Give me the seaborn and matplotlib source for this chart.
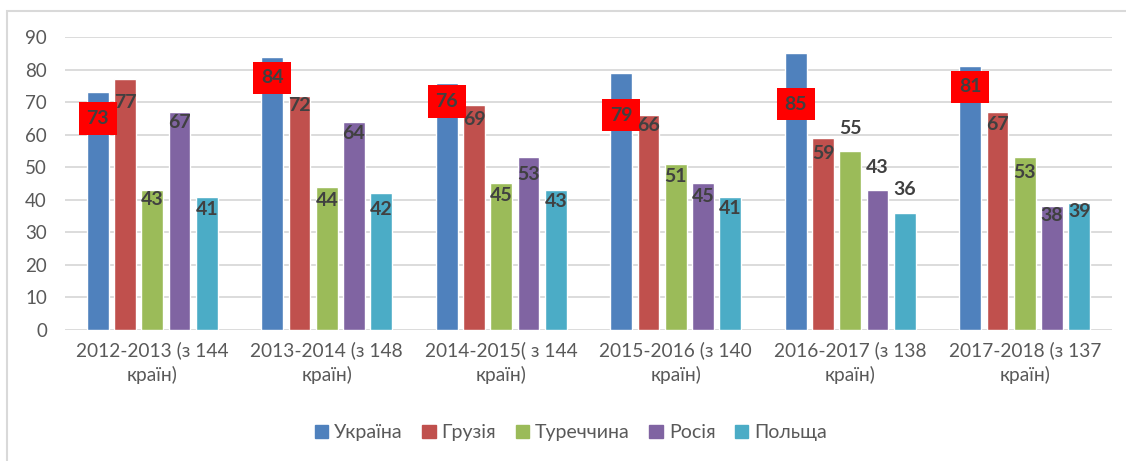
import pandas as pd
import numpy as np
import matplotlib.pyplot as plt
import seaborn as sns
from matplotlib.patches import Rectangle

# Values
periods = ['2012-2013 (з 144\nкраїн)', '2013-2014 (з 148\nкраїн)', '2014-2015( з 144\nкраїн)',
           '2015-2016 (з 140\nкраїн)', '2016-2017 (з 138\nкраїн)', '2017-2018 (з 137\nкраїн)']
countries = ['Україна', 'Грузія', 'Туреччина', 'Росія', 'Польща']
ukraine = [73, 84, 76, 79, 85, 81]
georgia = [77, 72, 69, 66, 59, 67]
turkey = [43, 44, 45, 51, 55, 53]
russia = [67, 64, 53, 45, 43, 38]
poland = [41, 42, 43, 41, 36, 39]

colors = ['#4F81BD', '#C0504D', '#9BBB59', '#8064A2', '#4BACC6']

# vertical label offsets (in axis units) to mimic where Excel put each label
label_offsets = [
    [-8, -6.6, -5.9, -13, -15.6, -6.3],
    [-7, -3, -4.3, -3.3, -4.7, -4],
    [-3, -4.3, -3.8, -3.9, 6.9, -4.7],
    [-3.4, -3.7, -5.1, -4.1, 7, -2.7],
    [-4, -5, -3.6, -3.6, 7, -2.7],
]

series = [ukraine, georgia, turkey, russia, poland]
df = pd.DataFrame({
    'period': np.repeat(periods, len(countries)),
    'country': countries * len(periods),
    'value': [series[j][i] for i in range(len(periods)) for j in range(len(countries))],
})

sns.set_style('white')
plt.rcParams['font.family'] = ['Lato', 'DejaVu Sans']

fig = plt.figure(figsize=(11.26, 4.61), dpi=100)
ax = fig.add_axes([0.0577, 0.2842, 0.9299, 0.6356])

sns.barplot(data=df, x='period', y='value', hue='country', palette=colors,
            width=0.78, gap=0.2, ax=ax, legend=True, saturation=1)

ax.set_ylim(0, 90)
ax.set_xlim(-0.5, len(periods) - 0.5)
ax.set_yticks(range(0, 91, 10))
ax.grid(axis='y', color='#D9D9D9', linewidth=1.3)
ax.set_axisbelow(True)
for s in ax.spines.values():
    s.set_visible(False)
ax.set_xlabel('')
ax.set_ylabel('')
ax.tick_params(axis='y', length=0, pad=13, labelsize=13.5, labelcolor='#595959')
ax.tick_params(axis='x', length=0, pad=8, labelsize=13.8, labelcolor='#595959')
for lbl in ax.get_xticklabels():
    lbl.set_linespacing(1.45)

# data labels
for j, cont in enumerate(ax.containers):
    for i, bar in enumerate(cont):
        x = bar.get_x() + bar.get_width() / 2
        h = bar.get_height()
        kw = dict(ha='center', va='center', fontsize=14, fontweight='bold', color='#404040')
        if j == 0:
            kw['bbox'] = dict(boxstyle='square,pad=0.4', fc='#FF0000', ec='none')
        ax.text(x, h + label_offsets[j][i], f'{int(h)}', **kw)

ax.get_legend().remove()
handles = [Rectangle((0, 0), 1, 1, color=c) for c in colors]
fig.legend(handles, countries, loc='center', bbox_to_anchor=(0.507, 0.061), ncol=5,
           frameon=False, fontsize=14, handlelength=0.7, handleheight=0.7,
           handletextpad=0.3, columnspacing=1.0, labelcolor='#595959')

# light frame around the chart area
fig.add_artist(Rectangle((0.0062, -0.05), 1.1, 0.05 + 0.976, transform=fig.transFigure,
                         fill=False, ec='#D9D9D9', lw=1.5))

fig.savefig('out.png', dpi=100)
